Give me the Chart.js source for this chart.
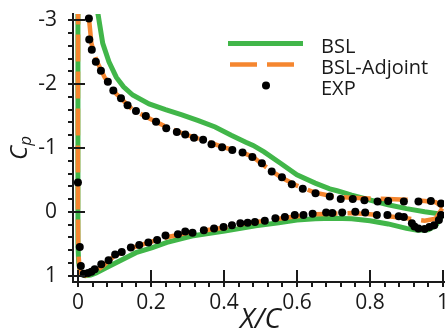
<!DOCTYPE html>
<html><head><meta charset="utf-8">
<script src="https://cdn.jsdelivr.net/npm/chart.js@4.4.1/dist/chart.umd.min.js"></script>
<style>html,body{margin:0;padding:0;background:#fff;overflow:hidden}</style>
</head><body>
<canvas id="c" width="448" height="331"></canvas>
<script>
// ---- data ----
const seriesNames = ['BSL', 'BSL-Adjoint', 'EXP'];

// BSL: trailing edge upper -> leading edge -> trailing edge lower
const bslX = [1.0,0.95,0.9,0.85,0.8,0.75,0.71,0.69,0.65,0.6,0.555,0.51,0.48,0.46,0.42,0.376,0.33,0.285,0.24,0.195,0.15,0.125,0.105,0.085,0.068,0.055,0.04,0.02,0.008,0.002,0.0,0.0,0.0,0.002,0.006,0.012,0.02,0.035,0.05,0.08,0.114,0.159,0.204,0.244,0.312,0.402,0.487,0.55,0.6,0.65,0.7,0.75,0.8,0.85,0.9,0.93,0.96,0.98,1.0];
const bslCp = [0.04,0.0,-0.05,-0.11,-0.185,-0.26,-0.33,-0.36,-0.45,-0.58,-0.76,-0.94,-1.04,-1.09,-1.2,-1.33,-1.43,-1.52,-1.6,-1.69,-1.83,-1.96,-2.11,-2.35,-2.64,-3.1,-3.6,-4.3,-4.8,-4.5,-3.0,-1.0,0.5,0.8,0.93,0.98,1.0,0.99,0.96,0.87,0.77,0.64,0.56,0.48,0.38,0.30,0.22,0.17,0.13,0.11,0.10,0.11,0.14,0.19,0.26,0.29,0.28,0.22,0.04];

// BSL-Adjoint
const adjX = [1.0,0.98,0.95,0.9,0.85,0.8,0.75,0.7,0.65,0.6,0.56,0.53,0.5,0.48,0.45,0.4,0.35,0.3,0.25,0.2,0.15,0.105,0.073,0.05,0.037,0.029,0.02,0.01,0.004,0.001,0.0,0.0,0.001,0.004,0.01,0.02,0.03,0.05,0.07,0.1,0.15,0.2,0.25,0.3,0.35,0.4,0.45,0.5,0.55,0.6,0.65,0.7,0.75,0.8,0.85,0.9,0.95,0.98,1.0];
const adjCp = [-0.07,-0.15,-0.17,-0.19,-0.20,-0.21,-0.22,-0.24,-0.30,-0.41,-0.53,-0.64,-0.77,-0.86,-0.93,-1.01,-1.11,-1.20,-1.31,-1.45,-1.6,-1.85,-2.11,-2.38,-2.64,-3.1,-3.7,-4.4,-4.7,-4.0,-2.0,0.0,0.6,0.88,0.98,1.0,0.98,0.93,0.84,0.69,0.56,0.47,0.39,0.33,0.29,0.25,0.19,0.15,0.11,0.07,0.04,0.03,0.02,0.04,0.07,0.10,0.14,0.11,-0.07];

// EXP (upper surface then lower surface)
const expX = [0.0,0.030,0.031,0.038,0.049,0.063,0.082,0.097,0.118,0.136,0.159,0.186,0.214,0.242,0.271,0.294,0.318,0.343,0.366,0.395,0.423,0.451,0.478,0.504,0.531,0.559,0.586,0.616,0.651,0.690,0.720,0.753,0.785,0.821,0.850,0.893,0.933,0.967,0.995,
  0.005,0.008,0.016,0.028,0.037,0.046,0.064,0.084,0.102,0.120,0.145,0.168,0.193,0.217,0.240,0.274,0.294,0.314,0.345,0.373,0.399,0.422,0.445,0.465,0.485,0.512,0.541,0.567,0.594,0.618,0.643,0.680,0.697,0.724,0.760,0.787,0.819,0.848,0.879,0.893,0.915,0.922,0.933,0.950,0.963,0.976,0.989,0.995];
const expCp = [-0.46,-3.03,-2.70,-2.54,-2.35,-2.21,-2.04,-1.90,-1.78,-1.67,-1.58,-1.50,-1.41,-1.31,-1.25,-1.21,-1.16,-1.13,-1.06,-1.01,-0.97,-0.93,-0.86,-0.76,-0.63,-0.54,-0.43,-0.36,-0.29,-0.24,-0.20,-0.20,-0.18,-0.16,-0.17,-0.16,-0.16,-0.17,-0.13,
  0.55,0.85,0.97,0.96,0.94,0.90,0.82,0.76,0.67,0.63,0.56,0.52,0.48,0.44,0.37,0.35,0.31,0.33,0.29,0.26,0.24,0.21,0.18,0.17,0.16,0.14,0.10,0.08,0.05,0.05,0.03,0.01,0.02,0.01,0.00,0.01,0.05,0.05,0.07,0.08,0.18,0.23,0.26,0.27,0.24,0.21,0.13,0.05];

const xTickLabels = ['0','0.2','0.4','0.6','0.8','1'];
const yTickLabels = ['-3','-2','-1','0','1'];

// ---- styles ----
const GREEN = '#41b649';
const ORANGE = '#f5862f';
const INK = '#1a1a1a';
const FONT = '"Open Sans", "DejaVu Sans", sans-serif';

const toPts = (xs, ys) => xs.map((x, i) => ({x: x, y: ys[i]}));

const decor = {
  id: 'decor',
  afterDraw(chart) {
    const ctx = chart.ctx;
    const xs = chart.scales.x, ys = chart.scales.y;
    const ax = Math.round(xs.top), ay = Math.round(ys.right);
    ctx.save();
    ctx.strokeStyle = INK;
    ctx.lineWidth = 2;
    // x ticks
    for (let k = 0; k <= 25; k++) {
      const v = k * 0.04;
      const px = Math.round(xs.getPixelForValue(v));
      ctx.beginPath();
      if (k % 5 === 0) { ctx.moveTo(px, ax + 5); ctx.lineTo(px, ax - 12); }
      else { ctx.moveTo(px, ax); ctx.lineTo(px, ax + 5); }
      ctx.stroke();
    }
    // y ticks
    for (let k = 0; k <= 20; k++) {
      const v = -3 + k * 0.2;
      const py = Math.round(ys.getPixelForValue(v));
      ctx.beginPath();
      if (k % 5 === 0) { ctx.moveTo(ay - 5, py); ctx.lineTo(ay + 12, py); }
      else { ctx.moveTo(ay, py); ctx.lineTo(ay - 5, py); }
      ctx.stroke();
    }
    // axis titles
    ctx.fillStyle = INK;
    ctx.font = 'italic 28px ' + FONT;
    ctx.textAlign = 'center';
    ctx.textBaseline = 'alphabetic';
    ctx.fillText('X/C', (xs.left + xs.right) / 2 + 2, 328);
    ctx.save();
    ctx.translate(27, 148);
    ctx.rotate(-Math.PI / 2);
    ctx.textAlign = 'left';
    ctx.font = 'italic 24px ' + FONT;
    const wC = ctx.measureText('C').width;
    ctx.font = 'italic 17px ' + FONT;
    const wp = ctx.measureText('p').width;
    const x0 = -(wC + wp) / 2;
    ctx.font = 'italic 24px ' + FONT;
    ctx.fillText('C', x0, 0);
    ctx.font = 'italic 17px ' + FONT;
    ctx.fillText('p', x0 + wC, 4);
    ctx.restore();
    // legend
    const ds = chart.data.datasets;
    ctx.lineCap = 'butt';
    ctx.strokeStyle = ds[0].borderColor; ctx.lineWidth = ds[0].borderWidth;
    ctx.beginPath(); ctx.moveTo(228, 43.5); ctx.lineTo(303, 43.5); ctx.stroke();
    ctx.strokeStyle = ds[1].borderColor; ctx.lineWidth = ds[1].borderWidth;
    ctx.setLineDash(ds[1].borderDash);
    ctx.beginPath(); ctx.moveTo(230, 64.5); ctx.lineTo(297, 64.5); ctx.stroke();
    ctx.setLineDash([]);
    ctx.fillStyle = ds[2].backgroundColor;
    ctx.beginPath(); ctx.arc(266, 85.5, ds[2].pointRadius, 0, Math.PI * 2); ctx.fill();
    ctx.fillStyle = INK;
    ctx.font = '20px ' + FONT;
    ctx.textAlign = 'left';
    ctx.fillText(seriesNames[0], 321, 52.5);
    ctx.fillText(seriesNames[1], 321, 73.5);
    ctx.fillText(seriesNames[2], 321, 95);
    ctx.restore();
  }
};

new Chart(document.getElementById('c'), {
  type: 'scatter',
  data: {
    datasets: [
      {label: seriesNames[0], data: toPts(bslX, bslCp), showLine: true, borderColor: GREEN, backgroundColor: GREEN,
       borderWidth: 5, pointRadius: 0, tension: 0, order: 3},
      {label: seriesNames[1], data: toPts(adjX, adjCp), showLine: true, borderColor: ORANGE, backgroundColor: ORANGE,
       borderWidth: 4.5, borderDash: [27, 10], pointRadius: 0, tension: 0, order: 2},
      {label: seriesNames[2], data: toPts(expX, expCp), showLine: false, borderColor: '#000', backgroundColor: '#000',
       borderWidth: 0, pointRadius: 4, order: 1}
    ]
  },
  options: {
    responsive: false,
    animation: false,
    devicePixelRatio: 1,
    layout: {padding: {top: 14, right: 0, left: 0, bottom: 0}},
    plugins: {legend: {display: false}, tooltip: {enabled: false}},
    scales: {
      x: {
        type: 'linear', min: -0.0135, max: 1.003,
        grid: {display: false},
        border: {display: true, color: INK, width: 2},
        ticks: {stepSize: 0.2, includeBounds: false, autoSkip: false, maxRotation: 0, padding: 0,
          color: INK, font: {family: FONT, size: 21},
          callback: (v) => { const i = Math.round(v / 0.2); return xTickLabels[i] ?? ''; }},
        afterFit: (s) => { s.height = 49; s.paddingLeft = 0; s.paddingRight = 0; }
      },
      y: {
        type: 'linear', reverse: true, min: -3.1, max: 1.1,
        grid: {display: false},
        border: {display: true, color: INK, width: 2},
        ticks: {stepSize: 1, includeBounds: false, autoSkip: false, padding: 8,
          color: INK, font: {family: FONT, size: 21},
          callback: (v) => { const i = Math.round(v + 3); return yTickLabels[i] ?? ''; }},
        afterFit: (s) => { s.width = 73; s.paddingTop = 0; s.paddingBottom = 0; }
      }
    }
  },
  plugins: [decor]
});
</script>
</body></html>
